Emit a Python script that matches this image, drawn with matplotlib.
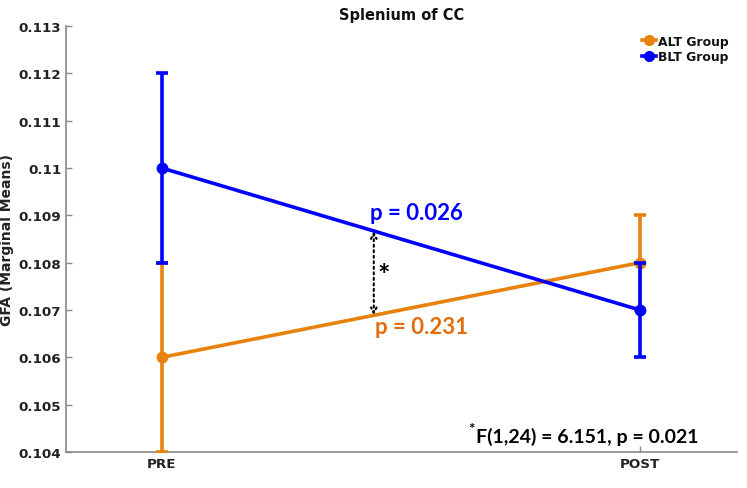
import matplotlib
matplotlib.use("Agg")
import matplotlib.pyplot as plt
from matplotlib.lines import Line2D
import numpy as np

timepoints = ["PRE", "POST"]
alt_means = [0.106, 0.108]
alt_err = [0.002, 0.001]
blt_means = [0.110, 0.107]
blt_err = [0.002, 0.001]
p_blt = "p = 0.026"
p_alt = "p = 0.231"
stat_text = "F(1,24) = 6.151, p = 0.021"

ALT_C = "#E8820C"
ALT_TXT = "#E46C0A"
BLT_C = "#0000FF"

plt.rcParams['font.family'] = ['DejaVu Sans']
fig = plt.figure(figsize=(7.47, 4.89), dpi=100)
ax = fig.add_axes([0.0884, 0.0736, 0.8982, 0.8712])

x = np.arange(1, len(timepoints) + 1)
ax.errorbar(x, alt_means, yerr=alt_err, color=ALT_C, lw=2.6, marker='o', ms=7.5,
            capsize=4, capthick=2.6, elinewidth=2.6, zorder=3)
ax.errorbar(x, blt_means, yerr=blt_err, color=BLT_C, lw=2.6, marker='o', ms=7.5,
            capsize=4, capthick=2.6, elinewidth=2.6, zorder=4)

ax.set_xlim(0.8, 2.203)
ax.set_ylim(0.104, 0.113)
ax.set_xticks(x)
ax.set_xticklabels(timepoints, fontweight='bold', fontsize=9.7, color='#222222')
yt = np.arange(0.104, 0.1131, 0.001)
ax.set_yticks(yt)
ax.set_yticklabels([("%.3f" % v).rstrip('0') if abs(v - 0.11) < 1e-9 else "%.3f" % v for v in yt],
                   fontweight='bold', fontsize=9.7, color='#222222')
ax.tick_params(direction='in', length=4, color='#888888', width=1, pad=3.5)
for s in ['top', 'right']:
    ax.spines[s].set_visible(False)
for s in ['left', 'bottom']:
    ax.spines[s].set_color('#888888')
    ax.spines[s].set_linewidth(1.2)

ax.set_ylabel("GFA (Marginal Means)", fontweight='bold', fontsize=10, color='#222222', labelpad=3)
ax.set_title("Splenium of CC", fontweight='bold', fontsize=10.5, color='#111111', pad=5)

handles = [Line2D([], [], color=ALT_C, lw=2.6, marker='o', ms=7),
           Line2D([], [], color=BLT_C, lw=2.6, marker='o', ms=7)]
leg = ax.legend(handles, ["ALT Group", "BLT Group"], loc='upper right', frameon=False,
                fontsize=8.9, handlelength=1.2, handletextpad=0.1, borderaxespad=0.3,
                labelspacing=0.2, bbox_to_anchor=(1.0, 1.0))
for t in leg.get_texts():
    t.set_fontweight('bold')
    t.set_color('#111111')

# interaction arrow
xa = 1.4435
y_top = blt_means[0] + (blt_means[1] - blt_means[0]) * (xa - 1)
y_bot = alt_means[0] + (alt_means[1] - alt_means[0]) * (xa - 1)
ax.annotate("", xy=(xa, y_top), xytext=(xa, y_bot),
            arrowprops=dict(arrowstyle='<->', linestyle=':', lw=1.5, color='black',
                            shrinkA=0, shrinkB=0, mutation_scale=10))
ax.text(xa + 0.008, (y_top + y_bot) / 2 - 0.00004, "*", fontsize=21, fontweight='bold',
        family='Lato', ha='left', va='center', color='black')

ax.text(1.435, 0.10907, p_blt, color=BLT_C, fontsize=16, fontweight='bold', family='Lato',
        ha='left', va='center')
ax.text(1.446, 0.10666, p_alt, color=ALT_TXT, fontsize=16, fontweight='bold', family='Lato',
        ha='left', va='center')
ax.text(1.657, 0.10434, stat_text, color='black', fontsize=14, fontweight='bold', family='Lato',
        ha='left', va='center')
ax.text(1.641, 0.10448, "*", color='black', fontsize=11, fontweight='bold', family='Lato',
        ha='left', va='center')

fig.savefig("out.png", dpi=100)
